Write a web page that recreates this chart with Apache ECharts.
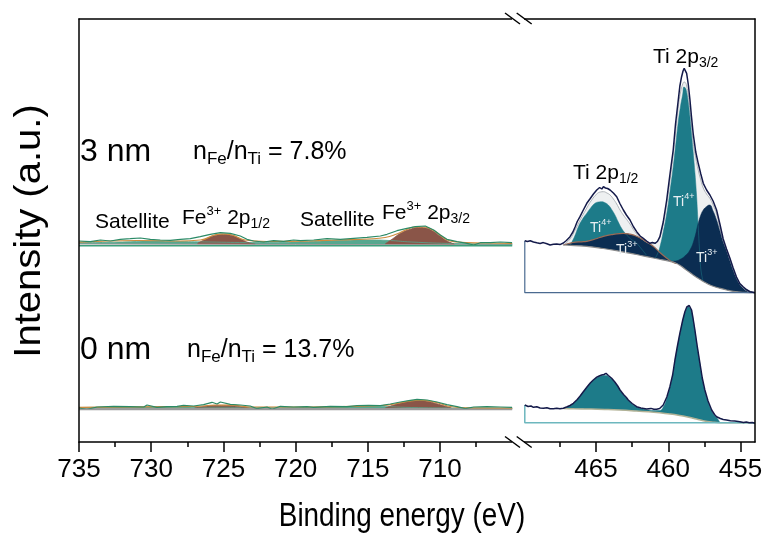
<!DOCTYPE html>
<html>
<head>
<meta charset="utf-8">
<script src="https://cdn.jsdelivr.net/npm/echarts@6/dist/echarts.min.js"></script>
<style>
html,body{margin:0;padding:0;background:#fff;}
#chart{width:769px;height:533px;}
</style>
</head>
<body>
<div id="chart"></div>
<script>
// ---- tick values (binding energy, eV) ----
const feTicksMajor = [735, 730, 725, 720, 715, 710];
const feTicksMinor = [732.5, 727.5, 722.5, 717.5, 712.5, 707.5];
const tiTicksMajor = [465, 460, 455];
const tiTicksMinor = [467.5, 462.5, 457.5];

// ---- Fe 2p region, 3 nm sample: [energy, intensity] ----
const feData3 = [[735,201],[734.91,201],[734.22,200.3],[733.52,202],[732.83,201],[732.14,202.7],[731.45,203.3],[730.75,204],[730.06,202.7],[729.37,202],[728.68,201.7],[727.98,202.7],[727.29,203.3],[726.6,205.3],[725.91,207.7],[725.21,209.3],[724.52,208.7],[723.83,206],[723.37,202.7],[722.91,201],[722.22,200],[721.52,201.3],[720.83,200.7],[720.14,202],[719.67,201.3],[718.75,202],[717.83,203.3],[716.9,202.7],[715.98,203.7],[715.06,204.7],[714.13,206],[713.67,207.7],[712.98,211.3],[712.29,213.7],[711.71,215.3],[711.02,216],[710.44,212],[709.98,207],[709.52,202.7],[708.82,200.3],[708.13,198.7],[707.67,197],[707.21,199.3],[706.52,199.3],[705.82,200],[705.01,199.3]];
const feBg3 = [[735,198],[720,197.6],[705,197]];
const feBase3 = [[735,196.3],[705,196.3]];
const feSat3 = [[735,199.5],[732,200],[730,201],[728,200.5],[726,200],[723,199.5],[720,200],[717,201.5],[715,202],[713.5,201.5],[712,200],[709,198.5],[705,198]];
const fePeak12_3 = [[726.8,198.5],[726.2,203],[725.6,206.5],[725.0,207.5],[724.4,206.5],[723.8,203],[723.2,199],[722.8,198]];
const fePeak32_3 = [[713.8,198],[713.3,203],[712.7,209],[712.0,213],[711.5,214.5],[711.0,214],[710.5,211],[710.0,206],[709.5,201],[709.0,198]];
const feEnv3 = [[735,199.8],[731,201.5],[728,201],[726.6,202],[725.6,207],[725.0,208.2],[724.4,207],[723.5,202],[722,200.5],[719,201],[717,202],[715,203],[713.8,204.5],[713,208],[712.3,212.5],[711.7,215],[711.1,215],[710.5,212],[710,207],[709.5,202],[708.8,200],[707,199],[705,198.5]];

// ---- Fe 2p region, 0 nm sample ----
const feData0 = [[735,34],[734.91,34],[734.45,32.7],[733.75,35],[732.6,35.7],[731.45,35.3],[730.52,35],[730.29,37],[729.6,34.7],[728.91,35.3],[728.21,35.7],[727.76,36.7],[727.06,36],[726.37,37.3],[725.79,39.7],[725.44,38],[725.21,40],[724.52,37.7],[723.83,37],[723.14,36],[722.67,33.3],[721.98,35],[721.63,32.7],[721.06,35.7],[720.14,35],[719.21,35.3],[718.75,34.7],[717.6,35.7],[716.44,35.3],[715.75,36.3],[714.94,36.7],[714.13,36.3],[713.44,38],[712.75,40],[712.06,41.7],[711.59,42.7],[710.9,42],[710.21,40],[709.52,37.3],[708.82,35.3],[708.25,33.3],[707.67,35],[706.75,35.3],[705.82,35],[705.01,34.7]];
const feBg0 = [[735,33.6],[705,33.3]];
const feBase0 = [[735,32.5],[705,32.5]];
const feSat0 = [[735,34.5],[730,35],[726,34.8],[721,34.6],[717,35.3],[714.5,35.5],[712,34.5],[709,34],[705,33.8]];
const fePeak12_0 = [[727,34],[726.2,35.8],[725.5,36.6],[724.8,36.6],[724.0,35.6],[723.2,34]];
const fePeak32_0 = [[713.8,34],[713.2,37],[712.6,39.5],[712.0,41],[711.5,41.5],[711.0,41],[710.4,39],[709.8,36.5],[709.2,34]];
const feEnv0 = [[735,34.7],[729,35.3],[727,35.5],[725.5,37],[724.5,36.9],[723,35],[719,35],[716,35.6],[714,36.5],[713,38.5],[712,41.2],[711.4,41.8],[710.8,41.2],[710,38.5],[709.3,35.5],[708,34.2],[705,33.9]];

// ---- Ti 2p region, 3 nm sample ----
const tiData3 = [[469.93,201.3],[469.75,200.5],[469.55,201.2],[469.33,200],[469.1,199.2],[468.87,198.6],[468.65,199.4],[468.4,198.2],[468.18,197],[467.95,197.8],[467.72,198],[467.5,197.4],[467.26,199],[467.05,201.5],[466.8,205.3],[466.6,210],[466.45,215],[466.3,220.5],[466.11,225.3],[465.88,232],[465.64,238.7],[465.4,243.5],[465.18,248],[464.95,252],[464.75,254.5],[464.6,253],[464.49,255.3],[464.35,254],[464.2,253.5],[464.03,252],[463.8,249],[463.57,245.3],[463.35,238.5],[463.11,232],[462.9,227],[462.65,222],[462.42,215.5],[462.19,210.3],[461.95,206],[461.73,203.7],[461.5,201],[461.27,198.7],[461.1,199.5],[460.92,198.7],[460.75,200.5],[460.58,205.3],[460.35,220],[460.11,242],[459.9,266],[459.66,292],[459.5,318],[459.31,342],[459.2,356],[459.08,365.3],[458.98,371],[458.9,373.7],[458.8,372],[458.73,368.7],[458.62,358],[458.5,342],[458.4,326],[458.28,308.7],[458.1,290],[457.93,278.7],[457.75,268],[457.58,258.7],[457.35,252],[457.12,247],[456.9,241],[456.66,232],[456.43,218],[456.2,203],[455.97,193],[455.74,184],[455.51,174],[455.28,165],[455.05,158.5],[454.82,155.3],[454.6,152.5],[454.36,150.3],[454.15,149.8],[454.01,149.3]];
const tiBg3 = [[467.26,197],[466.5,196.4],[465.64,195.7],[464.5,193.5],[463.34,190.7],[462.2,187.5],[461.04,184],[460.4,182.2],[459.89,180.7],[459.5,179],[459.2,176.7],[458.8,172.5],[458.28,167],[457.8,162.5],[457.35,158.7],[456.9,155.8],[456.43,153.7],[455.97,152],[455.51,150.7],[454.8,149.7],[454.01,149.3]];
const tiEnv3 = [[467.26,197],[466.8,203],[466.45,212],[466.1,222],[465.64,234],[465.3,242],[464.95,248],[464.7,250],[464.49,250.3],[464.25,249],[464.03,247],[463.8,243],[463.57,238],[463.34,232],[463.11,227],[462.88,222.5],[462.65,218],[462.42,212.5],[462.19,208],[461.95,204.5],[461.73,202],[461.5,199.8],[461.27,198.5],[461.1,198.2],[460.92,199],[460.75,201],[460.58,205],[460.35,218],[460.11,238],[459.88,262],[459.66,288],[459.48,312],[459.31,335],[459.15,350],[459.0,358],[458.9,360],[458.8,359],[458.73,356],[458.62,347],[458.5,332],[458.4,317],[458.28,300],[458.1,284],[457.93,272],[457.75,262],[457.58,254],[457.35,248],[457.12,243.5],[456.9,237],[456.66,228],[456.43,214],[456.2,201],[455.97,192.5],[455.74,183],[455.51,173],[455.28,164.5],[455.05,158],[454.82,154],[454.6,151.5],[454.36,150],[454.01,149.3]];
const tiTi4_12 = [[466.8,196.7],[466.5,205],[466.22,215.3],[465.93,223],[465.64,228.7],[465.35,234.5],[465.07,238.7],[464.84,240],[464.61,240.3],[464.38,239.3],[464.15,237],[463.92,232.5],[463.69,227],[463.46,220],[463.23,213.7],[463.0,209],[462.77,205.3],[462.48,201.8],[462.19,198.7],[461.85,193],[461.5,186.6]];
const tiTi3_12 = [[467.26,197],[466.9,198.5],[466.45,199.8],[466.0,200.2],[465.64,200.7],[465.06,203],[464.49,205.7],[463.8,207.6],[463.11,208.7],[462.65,207.8],[462.19,205.7],[461.6,201],[461.04,195.7],[460.58,189.5],[460.12,184],[459.78,180.5],[459.43,178.3]];
const tiTi4_32 = [[460.92,183.6],[460.75,188],[460.58,195],[460.35,210],[460.11,228],[459.88,251],[459.66,275],[459.48,298],[459.31,320],[459.15,336],[459.0,348],[458.92,355],[458.82,354],[458.73,350],[458.62,340],[458.5,325],[458.4,309],[458.28,290],[458.15,268],[458.05,248],[457.98,230],[457.93,215],[457.85,195],[457.78,178],[457.7,168],[457.6,161.5]];
const tiTi3_32 = [[459.9,180.7],[459.5,181],[459.2,182.5],[458.85,186],[458.5,192],[458.2,203],[457.93,218.7],[457.75,227],[457.58,232],[457.35,235.5],[457.14,237],[456.9,231],[456.66,222],[456.43,211],[456.2,200],[455.97,191],[455.74,181],[455.51,171.5],[455.28,163.5],[455.05,158],[454.82,154.5],[454.6,152.3],[454.36,150.8],[454.01,149.4]];
const tiFloor3 = 149.3;

// ---- Ti 2p region, 0 nm sample ----
const tiData0 = [[469.93,37],[469.7,35.5],[469.5,36],[469.33,34.7],[469.1,35.2],[468.87,34],[468.64,33.7],[468.4,34.3],[468.18,33.2],[467.95,33.3],[467.72,33.8],[467.5,33.2],[467.26,33.7],[467.0,35.2],[466.8,36.5],[466.57,38.7],[466.3,42.5],[466.1,46],[465.88,50.3],[465.6,55.5],[465.4,59],[465.19,62],[464.95,64.8],[464.78,66],[464.61,67],[464.45,67.5],[464.31,68.7],[464.15,66.5],[463.92,63.7],[463.7,60],[463.5,56],[463.34,52],[463.1,47.5],[462.9,44.5],[462.77,42],[462.5,38.5],[462.19,35.3],[461.9,34],[461.7,33.5],[461.5,33],[461.2,33.6],[461.0,32.7],[460.81,32.7],[460.6,33.5],[460.5,34.5],[460.35,37],[460.1,45],[459.89,55.3],[459.7,67],[459.54,82],[459.38,95],[459.2,108.7],[459.0,122],[458.85,130.3],[458.72,135],[458.62,137],[458.55,136.5],[458.48,136],[458.39,132],[458.28,123],[458.16,112],[458.0,96],[457.81,78.7],[457.65,64],[457.47,52],[457.25,41],[457.0,32],[456.8,27.5],[456.66,25.3],[456.4,23.5],[456.2,22.5],[455.97,22],[455.7,21.3],[455.4,21],[455.05,20.3],[454.8,19.5],[454.6,20],[454.4,19.2],[454.2,19.5],[454.01,18.7]];
const tiBg0 = [[467.26,33.5],[466.5,33.2],[465.5,33],[464.4,32.6],[463.34,32],[462.2,31],[461.0,29.8],[459.89,28],[459.3,26.8],[458.74,25.3],[458.15,23.2],[457.58,21.3],[457.0,20],[456.43,19.3],[455.5,19.3],[454.01,19.3]];
const tiFit0 = [[467.26,33.5],[466.8,36],[466.57,38.5],[466.3,42],[466.1,45.5],[465.88,49.8],[465.6,55],[465.4,58.5],[465.19,61.5],[464.95,64.2],[464.7,65.8],[464.45,66.5],[464.31,66.6],[464.15,65.6],[463.92,63],[463.7,59.5],[463.5,55.5],[463.34,51.5],[463.1,47],[462.9,43.8],[462.77,41.5],[462.5,38],[462.19,35],[461.9,33.4],[461.5,32.3],[461.0,31.5],[460.6,31.5],[460.35,35],[460.1,43.5],[459.89,54],[459.7,66],[459.54,80.5],[459.38,94],[459.2,107.5],[459.0,121],[458.85,129],[458.72,133.5],[458.62,135],[458.5,134],[458.39,130.5],[458.28,122],[458.16,111],[458.0,95],[457.81,77.5],[457.65,63],[457.47,51],[457.25,40],[457.0,31],[456.8,26.5],[456.6,23.5],[456.43,19.3]];
const tiFloor0 = 19.3;

// ---- styling ----
const FONT = "'Liberation Sans', Arial, sans-serif";
const C = {
  axis: '#000',
  feData: '#2b8a66', feSat: '#57a78f', feBrown: '#8a5548', feOrange: '#cf8a3c', feBase: '#3c9f7c', feBg: '#9a9a9a',
  tiData: '#141a4a', tiTeal: '#1d7b89', tiNavy: '#0b2d52', tiEnvFill: '#eef0f1', tiEnvLine: '#aeb3b8',
  tiBg: '#8c8c8c', tiEdge: '#9b6a55', tiFrame3: '#4a6a90', tiFrame0: '#6db7be', tiBg0: '#b2b296'
};

function lineS(data, xi, yi, color, width, smooth) {
  return { type: 'line', data: data, xAxisIndex: xi, yAxisIndex: yi, showSymbol: false, smooth: smooth || false,
    lineStyle: { color: color, width: width }, silent: true, animation: false };
}
function areaS(data, xi, yi, fill, lineColor, width, smooth) {
  const s = lineS(data, xi, yi, lineColor || fill, width == null ? 0 : width, smooth);
  s.areaStyle = { color: fill, opacity: 1, origin: 'start' };
  return s;
}
// white fill below a background curve, widened a little so no fill edge peeks out beside it
function maskS(bg, xi, yi, pad, smooth) {
  const first = bg[0], last = bg[bg.length - 1];
  const data = [[first[0] + pad, first[1]]].concat(bg, [[last[0] - pad, last[1]]]);
  const s = areaS(data, xi, yi, '#ffffff', '#ffffff', 0, smooth);
  s.lineStyle.opacity = 0;
  return s;
}

const L = 0, R = 3; // x-axis indices of the left (Fe) and right (Ti) panels
const tiFrame3 = [[tiData3[0][0], tiData3[0][1]], [tiData3[0][0], tiFloor3], [tiData3[tiData3.length - 1][0], tiFloor3]];
const tiFrame0 = [[tiData0[0][0], tiData0[0][1]], [tiData0[0][0], tiFloor0], [tiData0[tiData0.length - 1][0], tiFloor0]];

const series = [
  // Fe 2p, 3 nm
  areaS(feSat3, L, 0, C.feSat, C.feSat, 0.8, true),
  areaS(fePeak12_3, L, 0, C.feBrown, C.feBrown, 0.8, true),
  areaS(fePeak32_3, L, 0, C.feBrown, C.feBrown, 0.8, true),
  maskS(feBg3, L, 0, 0.6),
  lineS(feBg3, L, 0, C.feBg, 1),
  lineS(feEnv3, L, 0, C.feOrange, 1.2, true),
  lineS(feData3, L, 0, C.feData, 1.2),
  lineS(feBase3, L, 0, C.feBase, 1.5),
  // Fe 2p, 0 nm
  areaS(feSat0, L, 0, C.feSat, C.feSat, 0.8, true),
  areaS(fePeak12_0, L, 0, C.feBrown, C.feBrown, 0.8, true),
  areaS(fePeak32_0, L, 0, C.feBrown, C.feBrown, 0.8, true),
  maskS(feBg0, L, 0, 0.6),
  lineS(feBg0, L, 0, C.feBg, 1),
  lineS(feEnv0, L, 0, C.feOrange, 1.2, true),
  lineS(feData0, L, 0, C.feData, 1.2),
  lineS(feBase0, L, 0, C.feBg, 1.5),
  // Ti 2p, 3 nm
  areaS(tiEnv3, R, 1, C.tiEnvFill, C.tiEnvLine, 1, true),
  areaS(tiTi4_12, R, 1, C.tiTeal, C.tiTeal, 0.5, true),
  areaS(tiTi4_32, R, 1, C.tiTeal, C.tiTeal, 0.5, true),
  areaS(tiTi3_12, R, 1, C.tiNavy, C.tiEdge, 1.2, true),
  areaS(tiTi3_32, R, 1, C.tiNavy, C.tiNavy, 0.5, true),
  maskS(tiBg3, R, 1, 0.15, true),
  lineS(tiBg3, R, 1, C.tiBg, 1.2, true),
  lineS(tiFrame3, R, 1, C.tiFrame3, 1.2),
  lineS(tiData3, R, 1, C.tiData, 1.5),
  // Ti 2p, 0 nm
  areaS(tiFit0, R, 1, C.tiTeal, C.tiTeal, 0.5, true),
  maskS(tiBg0, R, 1, 0.15, true),
  lineS(tiBg0, R, 1, C.tiBg0, 1.5, true),
  lineS(tiFrame0, R, 1, C.tiFrame0, 1.5),
  lineS(tiData0, R, 1, C.tiData, 1.5)
];

function majorAxis(grid, min, max, ticks) {
  return { gridIndex: grid, type: 'value', min: min, max: max, inverse: true, position: 'bottom', z: 10,
    axisLine: { show: true, onZero: false, lineStyle: { color: C.axis, width: 1.5 } },
    axisTick: { show: true, inside: false, length: 10, customValues: ticks, lineStyle: { color: C.axis, width: 1.5 } },
    axisLabel: { show: true, customValues: ticks, color: '#000', fontSize: 26, fontFamily: FONT, margin: 15 },
    splitLine: { show: false } };
}
function minorAxis(grid, min, max, ticks) {
  return { gridIndex: grid, type: 'value', min: min, max: max, inverse: true, position: 'bottom', z: 10,
    axisLine: { show: false, onZero: false },
    axisTick: { show: true, inside: false, length: 5, customValues: ticks, lineStyle: { color: C.axis, width: 1.5 } },
    axisLabel: { show: false, customValues: ticks }, splitLine: { show: false } };
}
function topAxis(grid, min, max) {
  return { gridIndex: grid, type: 'value', min: min, max: max, inverse: true, position: 'top', z: 10,
    axisLine: { show: true, onZero: false, lineStyle: { color: C.axis, width: 1.5 } },
    axisTick: { show: false }, axisLabel: { show: false }, splitLine: { show: false } };
}
function frameY(grid, pos) {
  return { gridIndex: grid, type: 'value', min: 0, max: 423, position: pos, z: 10,
    axisLine: { show: true, onZero: false, lineStyle: { color: C.axis, width: 1.5 } },
    axisTick: { show: false }, axisLabel: { show: false }, splitLine: { show: false } };
}

const FE_MIN = 704.6, FE_MAX = 735, TI_MIN = 454, TI_MAX = 470.4;

function txt(x, y, text, size) {
  return { type: 'text', x: x, y: y, z: 50,
    style: { text: text, fontSize: size, fontFamily: FONT, fill: '#000', align: 'left', verticalAlign: 'middle' } };
}
function richTxt(x, y, text, rich, color) {
  return { type: 'text', x: x, y: y, z: 50,
    style: { text: text, rich: rich, fill: color || '#000', align: 'left', verticalAlign: 'middle', fontFamily: FONT } };
}
const ratioRich = {
  n: { fontSize: 25, fontFamily: FONT, fill: '#000' },
  s: { fontSize: 17, fontFamily: FONT, fill: '#000', padding: [15, 0, 0, 0] }
};
const peakRich = {
  n: { fontSize: 21, fontFamily: FONT, fill: '#000' },
  up: { fontSize: 13, fontFamily: FONT, fill: '#000', padding: [0, 0, 13, 0] },
  dn: { fontSize: 14, fontFamily: FONT, fill: '#000', padding: [13, 0, 0, 0] }
};
const ionRich = {
  n: { fontSize: 14, fontFamily: FONT, fill: '#e8eef2' },
  up: { fontSize: 9, fontFamily: FONT, fill: '#e8eef2', padding: [0, 0, 10, 0] }
};

const breakMarks = [];
[18.5, 442].forEach(function (yy) {
  breakMarks.push({ type: 'line', z: 60, shape: { x1: 512, y1: yy, x2: 524, y2: yy }, style: { stroke: '#fff', lineWidth: 3 } });
  breakMarks.push({ type: 'line', z: 61, shape: { x1: 505, y1: yy - 5.5, x2: 520, y2: yy + 5.5 }, style: { stroke: '#000', lineWidth: 1.5 } });
  breakMarks.push({ type: 'line', z: 61, shape: { x1: 516.7, y1: yy - 5.5, x2: 531.7, y2: yy + 5.5 }, style: { stroke: '#000', lineWidth: 1.5 } });
});

const option = {
  backgroundColor: '#fff',
  animation: false,
  grid: [
    { left: 79, top: 19, width: 439, height: 423 },
    { left: 518, top: 19, width: 237, height: 423 }
  ],
  xAxis: [
    majorAxis(0, FE_MIN, FE_MAX, feTicksMajor), minorAxis(0, FE_MIN, FE_MAX, feTicksMinor), topAxis(0, FE_MIN, FE_MAX),
    majorAxis(1, TI_MIN, TI_MAX, tiTicksMajor), minorAxis(1, TI_MIN, TI_MAX, tiTicksMinor), topAxis(1, TI_MIN, TI_MAX)
  ],
  yAxis: [frameY(0, 'left'), frameY(1, 'right')],
  series: series,
  graphic: [
    { type: 'text', x: 30, y: 231, rotation: Math.PI / 2, scaleY: 0.92, z: 50,
      style: { text: 'Intensity (a.u.)', fontSize: 40, fontFamily: FONT, fill: '#000', align: 'center', verticalAlign: 'middle' } },
    { type: 'text', x: 402, y: 517, scaleX: 0.82, z: 50,
      style: { text: 'Binding energy (eV)', fontSize: 34, fontFamily: FONT, fill: '#000', align: 'center', verticalAlign: 'middle' } },
    txt(80, 152, '3 nm', 32),
    richTxt(193, 152, '{n|n}{s|Fe}{n|/n}{s|Ti}{n| = 7.8%}', ratioRich),
    txt(80, 350, '0 nm', 32),
    richTxt(187, 350, '{n|n}{s|Fe}{n|/n}{s|Ti}{n| = 13.7%}', ratioRich),
    txt(95, 222, 'Satellite', 21),
    richTxt(182, 218, '{n|Fe}{up|3+}{n| 2p}{dn|1/2}', peakRich),
    txt(300, 220, 'Satellite', 21),
    richTxt(382, 213, '{n|Fe}{up|3+}{n| 2p}{dn|3/2}', peakRich),
    richTxt(573, 173, '{n|Ti 2p}{dn|1/2}', peakRich),
    richTxt(653, 57, '{n|Ti 2p}{dn|3/2}', peakRich),
    richTxt(590, 228, '{n|Ti}{up|4+}', ionRich),
    richTxt(673, 202, '{n|Ti}{up|4+}', ionRich),
    richTxt(616, 250, '{n|Ti}{up|3+}', ionRich),
    richTxt(696, 258, '{n|Ti}{up|3+}', ionRich)
  ].concat(breakMarks)
};

const chart = echarts.init(document.getElementById('chart'), null, { renderer: 'canvas' });
chart.setOption(option);
</script>
</body>
</html>
